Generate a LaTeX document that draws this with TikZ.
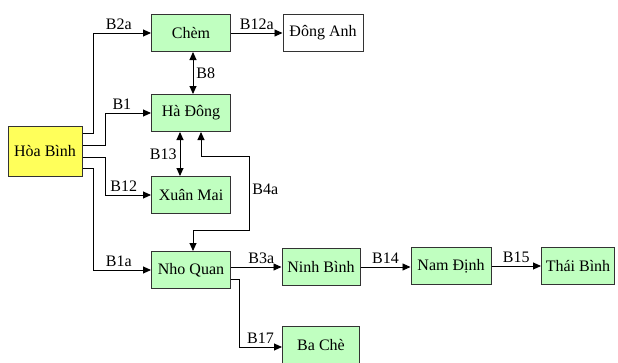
\documentclass[tikz,border=0pt]{standalone}
\usepackage{fontspec}
\setmainfont{Liberation Serif}
\usetikzlibrary{arrows.meta,positioning,calc}
\definecolor{townfill}{RGB}{192,255,192}
\definecolor{startfill}{RGB}{255,255,90}

\begin{document}
\begin{tikzpicture}[x=1pt, y=-1pt, font=\fontsize{16}{19}\selectfont,
    town/.style={draw=black!80, line width=1pt, fill=townfill, minimum width=79pt, minimum height=37pt, inner sep=0pt},
    road/.style={line width=0.9pt, -{Triangle[length=8pt, width=7pt]}},
    both/.style={line width=0.9pt, {Triangle[length=8pt, width=7pt]}-{Triangle[length=8pt, width=7pt]}},
    lbl/.style={inner sep=3pt}]
    \useasboundingbox (0,0) rectangle (618,362);

    \node[town, fill=startfill, minimum width=74pt, minimum height=50pt] (HB) at (45,151) {Hòa Bình};
    \node[town] (CM) at (191,33) {Chèm};
    \node[town, fill=white, minimum width=80pt] (DA) at (323,33) {Đông Anh};
    \node[town] (HD) at (191,113) {Hà Đông};
    \node[town] (XM) at (191,195) {Xuân Mai};
    \node[town] (NQ) at (191,270) {Nho Quan};
    \node[town, minimum width=78pt] (NB) at (321,267) {Ninh Bình};
    \node[town, minimum width=80pt] (ND) at (451,266) {Nam Định};
    \node[town, minimum width=73pt] (TB) at (578,266) {Thái Bình};
    \node[town, minimum width=77pt] (BC) at (321,345) {Ba Chè};

    % roads out of Hoa Binh
    \draw[road] ([yshift=18pt]HB.east) -- ++(11,0) |- (CM.west) node[lbl, pos=0.72, above] {B2a};
    \draw[road] ([yshift=6pt]HB.east) -- ++(23,0) |- (HD.west) node[lbl, pos=0.68, above] {B1};
    \draw[road] ([yshift=-6pt]HB.east) -- ++(23,0) |- (XM.west) node[lbl, pos=0.7, above] {B12};
    \draw[road] ([yshift=-17pt]HB.east) -- ++(11,0) |- (NQ.west) node[lbl, pos=0.72, above] {B1a};

    \draw[road] (CM) -- (DA) node[lbl, midway, above] {B12a};
    \draw[both] ([xshift=2pt]CM.south) -- ([xshift=2pt]HD.north) node[lbl, midway, right] {B8};
    \draw[both] ([xshift=-11pt]HD.south) -- ([xshift=-11pt]XM.north) node[lbl, midway, left] {B13};
    \draw[both] ([xshift=10pt]HD.south) -- ++(0,24) -- ++(48,0) -- ++(0,74) node[lbl, pos=0.45, right] {B4a} -| ([xshift=2pt]NQ.north);

    \draw[road] (NQ.east |- NB.west) -- (NB.west) node[lbl, pos=0.6, above] {B3a};
    \draw[road] ([yshift=-9pt]NQ.east) -- ++(8,0) |- ([yshift=-2pt]BC.west) node[lbl, pos=0.75, above] {B17};
    \draw[road] (NB) -- (NB -| ND.west) node[lbl, midway, above] {B14};
    \draw[road] (ND) -- (TB) node[lbl, midway, above] {B15};
\end{tikzpicture}
\end{document}
